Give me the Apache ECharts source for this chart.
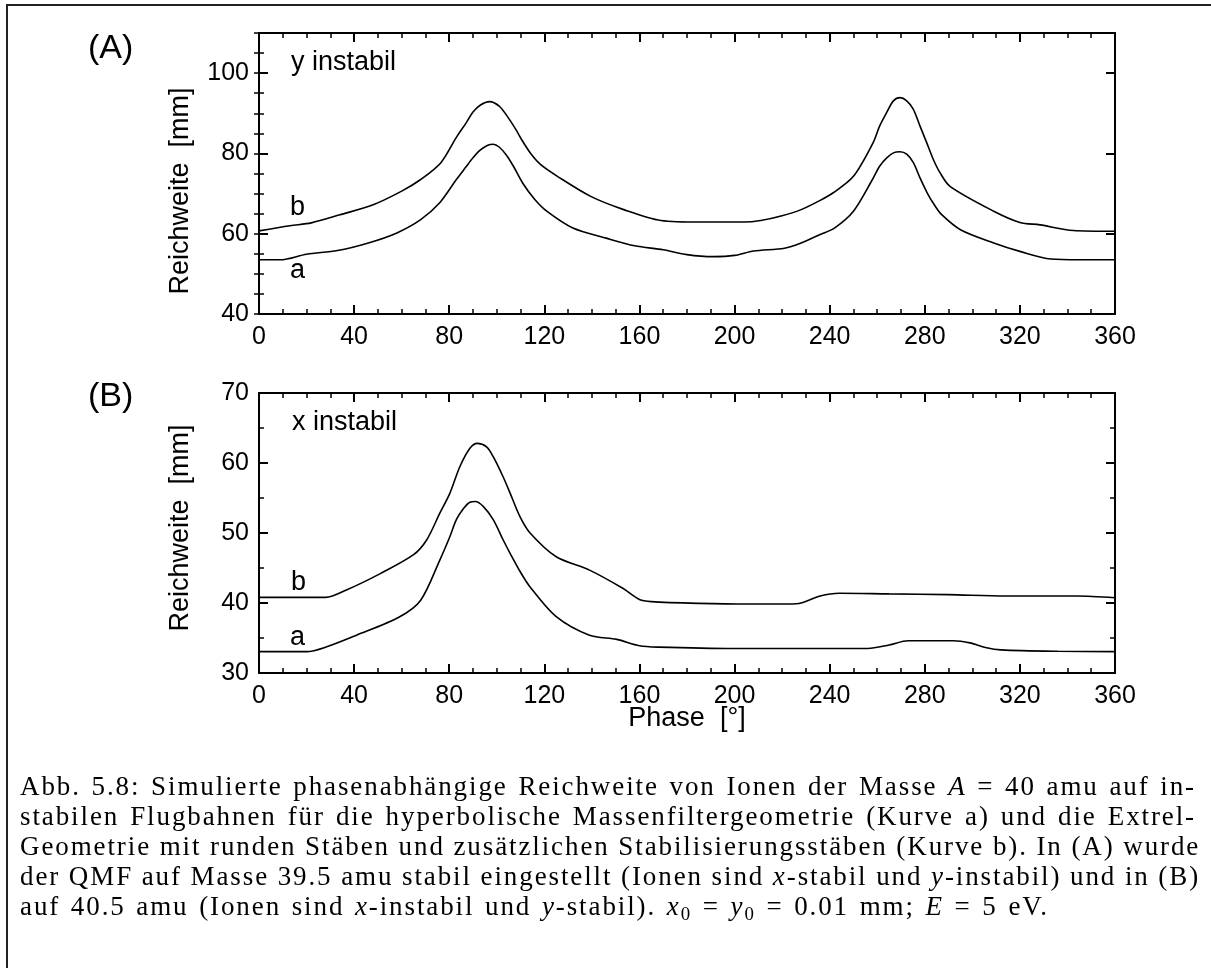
<!DOCTYPE html>
<html>
<head>
<meta charset="utf-8">
<script src="https://cdn.jsdelivr.net/npm/echarts@6/dist/echarts.min.js"></script>
<style>
  html, body { margin: 0; padding: 0; background: #fff; }
  #page { position: relative; width: 1211px; height: 968px; overflow: hidden; }
  #chart { position: absolute; left: 0; top: 0; width: 1211px; height: 968px; }
  #frame { position: absolute; left: 6px; top: 4px; width: 1300px; height: 1000px;
           border-left: 2px solid #222; border-top: 2px solid #222; }
  #caption { position: absolute; left: 20px; top: 771px; width: 1176px;
             font-family: "Liberation Serif", serif; font-size: 27px; line-height: 30px;
             letter-spacing: 1.9px; color: #000; }
  #caption .ln { text-align: justify; text-align-last: justify; white-space: nowrap; }
  #caption .ln.last { text-align: left; text-align-last: left; word-spacing: 2px; }
  #caption sub { font-size: 70%; line-height: 0; vertical-align: -0.25em; }
</style>
</head>
<body>
<div id="page">
  <div id="frame"></div>
  <div id="chart"></div>
  <div id="caption">
    <div class="ln">Abb. 5.8: Simulierte phasenabhängige Reichweite von Ionen der Masse <i>A</i> = 40 amu auf in-</div>
    <div class="ln">stabilen Flugbahnen für die hyperbolische Massenfiltergeometrie (Kurve a) und die Extrel-</div>
    <div class="ln">Geometrie mit runden Stäben und zusätzlichen Stabilisierungsstäben (Kurve b). In (A) wurde</div>
    <div class="ln">der QMF auf Masse 39.5 amu stabil eingestellt (Ionen sind <i>x</i>-stabil und <i>y</i>-instabil) und in (B)</div>
    <div class="ln last">auf 40.5 amu (Ionen sind <i>x</i>-instabil und <i>y</i>-stabil). <i>x</i><sub>0</sub> = <i>y</i><sub>0</sub> = 0.01 mm; <i>E</i> = 5 eV.</div>
  </div>
</div>
<script>
// (A) y instabil – Kurve a
const phaseAa = [0, 9, 20, 33, 46, 58, 68, 76, 83, 87, 90, 93, 96, 98.5, 101, 104, 107, 111, 116, 121, 132, 146, 158, 170, 180, 191, 200, 208, 221, 228, 236, 242, 250, 258, 261, 264, 267, 269.6, 272.4, 275.2, 278, 281, 284, 287, 295, 309, 320, 333, 345, 360];
const reachAa = [53.5, 53.5, 54.9, 55.8, 57.7, 60.2, 63.5, 67.7, 73.5, 76.6, 78.9, 80.8, 82.0, 82.3, 81.6, 79.6, 76.8, 72.5, 68.5, 65.6, 61.4, 58.9, 57.0, 56.0, 54.8, 54.3, 54.6, 55.7, 56.4, 57.7, 59.8, 61.4, 65.6, 73.5, 76.8, 78.9, 80.2, 80.4, 79.8, 77.7, 73.9, 70.2, 67.2, 64.8, 61.0, 57.7, 55.6, 53.7, 53.5, 53.5];
// (A) y instabil – Kurve b
const phaseAb = [0, 13, 22, 34, 48, 60, 68, 76.5, 83, 87, 90, 93, 97, 101, 104, 108, 111, 114.5, 118.5, 125.5, 139.5, 153.4, 169, 186, 204, 211, 220, 228, 236, 241.5, 250, 258.3, 261, 264, 266.8, 269.6, 272.4, 275.2, 278, 280.8, 283.6, 286.4, 290.6, 309, 320, 328.5, 342.4, 360];
const reachAb = [60.7, 62.0, 62.7, 64.7, 67.2, 70.6, 73.5, 77.7, 84.0, 87.5, 90.3, 92.0, 92.9, 91.8, 89.6, 86.0, 82.9, 79.8, 77.2, 74.3, 69.3, 66.0, 63.3, 62.9, 62.9, 63.3, 64.5, 66.0, 68.3, 70.2, 74.3, 82.7, 86.8, 90.2, 93.1, 93.9, 93.1, 91.0, 86.8, 82.7, 78.5, 75.2, 71.8, 65.6, 62.8, 62.2, 60.8, 60.6];
// (B) x instabil – Kurve a
const phaseBa = [0, 20, 28.5, 41, 59, 68, 76, 80.3, 83, 86, 88.7, 91, 94.3, 98.5, 102.7, 105.6, 109.8, 114, 125, 139, 150.5, 160, 168, 200, 256, 265, 273, 292, 299, 306, 312, 336, 360];
const reachBa = [33.05, 33.05, 33.75, 35.4, 38.0, 40.4, 46.1, 49.5, 51.9, 53.5, 54.4, 54.5, 53.8, 51.9, 49.0, 47.1, 44.5, 42.3, 38.05, 35.4, 34.8, 33.9, 33.7, 33.5, 33.5, 34.0, 34.6, 34.6, 34.3, 33.6, 33.3, 33.1, 33.05];
// (B) x instabil – Kurve b
const phaseBb = [0, 28, 37, 51, 65, 70.5, 76, 80.3, 84.5, 88.7, 91.8, 95.7, 98.5, 102.7, 105.6, 109.8, 114, 125, 139, 153, 160, 165, 185, 206, 223, 228, 236, 244, 265, 290, 314, 344, 360];
const reachBb = [40.8, 40.8, 41.9, 44.2, 46.9, 49.0, 52.8, 55.7, 59.5, 62.1, 62.8, 62.3, 60.9, 58.0, 55.7, 52.3, 50.0, 46.6, 44.7, 42.1, 40.5, 40.2, 39.95, 39.85, 39.85, 40.0, 41.0, 41.4, 41.3, 41.2, 41.0, 41.0, 40.75];

const phaseTicks = [0, 40, 80, 120, 160, 200, 240, 280, 320, 360];
const reachTicksA = [40, 60, 80, 100];
const reachTicksB = [30, 40, 50, 60, 70];

const FONT = 'Liberation Sans';
const pairs = (xs, ys) => xs.map((x, i) => [x, ys[i]]);

const chart = echarts.init(document.getElementById('chart'));

const line = { show: true, onZero: false, lineStyle: { color: '#000', width: 2 } };
const majorTick = { show: true, inside: true, length: 9, lineStyle: { color: '#000', width: 2 } };
const minorTickStyle = { show: true, splitNumber: 4, length: 5, lineStyle: { color: '#000', width: 1.5 } };
const tickLabel = { color: '#000', fontSize: 25, fontFamily: FONT };

// x axes: bottom with labels, top only ticks
function phaseAxis(gridIndex, pos) {
  return {
    type: 'value', gridIndex, position: pos, min: 0, max: 360, interval: 40,
    axisLine: line, axisTick: majorTick, minorTick: minorTickStyle,
    axisLabel: pos === 'bottom'
      ? Object.assign({ margin: 11, customValues: phaseTicks }, tickLabel)
      : { show: false },
    splitLine: { show: false }, minorSplitLine: { show: false }
  };
}
function reachAxis(gridIndex, pos, min, max, interval, opts) {
  return Object.assign({
    type: 'value', gridIndex, position: pos, min, max, interval,
    axisLine: line, axisTick: majorTick,
    axisLabel: { show: false },
    splitLine: { show: false }, minorSplitLine: { show: false }
  }, opts || {});
}
// nur kurze Striche (alle 5 mm)
function minorAxis(gridIndex, pos, min, max) {
  return {
    type: 'value', gridIndex, position: pos, min, max, interval: 5,
    axisLine: { show: false }, axisLabel: { show: false },
    axisTick: { show: true, inside: true, length: 5, lineStyle: { color: '#000', width: 1.5 } },
    splitLine: { show: false }
  };
}

const curve = (xi, yi, data) => ({
  type: 'line', xAxisIndex: xi, yAxisIndex: yi, data,
  showSymbol: false, smooth: 0.3,
  lineStyle: { color: '#000', width: 1.6 }, silent: true
});

const txt = (text, x, y, size, align) => ({
  type: 'text', x, y, silent: true,
  style: { text, fill: '#000', fontSize: size, fontFamily: FONT,
           align: align || 'left', verticalAlign: 'middle',
           textAlign: align || 'left', textVerticalAlign: 'middle' }
});
const vtxt = (text, x, y) => ({
  type: 'text', x, y, rotation: Math.PI / 2, silent: true,
  style: { text, fill: '#000', fontSize: 27, fontFamily: FONT,
           align: 'center', verticalAlign: 'middle', textAlign: 'center', textVerticalAlign: 'middle' }
});

chart.setOption({
  animation: false,
  backgroundColor: 'transparent',
  grid: [
    { left: 259, top: 33, width: 856, height: 281 },
    { left: 259, top: 393, width: 856, height: 280 }
  ],
  xAxis: [
    phaseAxis(0, 'bottom'), phaseAxis(0, 'top'),
    phaseAxis(1, 'bottom'), phaseAxis(1, 'top')
  ],
  yAxis: [
    reachAxis(0, 'left', 40, 110, 20, {
      axisLabel: Object.assign({ margin: 10, customValues: reachTicksA }, tickLabel),
      axisTick: Object.assign({ customValues: reachTicksA }, majorTick)
    }),
    minorAxis(0, 'left', 40, 110),
    reachAxis(0, 'right', 40, 110, 20, { axisTick: Object.assign({ customValues: reachTicksA }, majorTick) }),
    minorAxis(0, 'right', 40, 110),
    reachAxis(1, 'left', 30, 70, 10, {
      axisLabel: Object.assign({ margin: 10, customValues: reachTicksB }, tickLabel),
      minorTick: Object.assign({}, minorTickStyle, { splitNumber: 2 })
    }),
    reachAxis(1, 'right', 30, 70, 10, {
      minorTick: Object.assign({}, minorTickStyle, { splitNumber: 2 })
    })
  ],
  series: [
    curve(0, 0, pairs(phaseAa, reachAa)),
    curve(0, 0, pairs(phaseAb, reachAb)),
    curve(2, 4, pairs(phaseBa, reachBa)),
    curve(2, 4, pairs(phaseBb, reachBb))
  ],
  graphic: [
    txt('(A)', 88, 49, 34),
    txt('(B)', 88, 397, 34),
    txt('y instabil', 291, 63, 27),
    txt('x instabil', 292, 423, 27),
    txt('b', 290, 208, 27),
    txt('a', 290, 271, 27),
    txt('b', 291, 583, 27),
    txt('a', 290, 638, 27),
    vtxt('Reichweite  [mm]', 181, 191),
    vtxt('Reichweite  [mm]', 181, 528),
    txt('Phase  [°]', 687, 719, 27, 'center')
  ]
});
</script>
</body>
</html>
